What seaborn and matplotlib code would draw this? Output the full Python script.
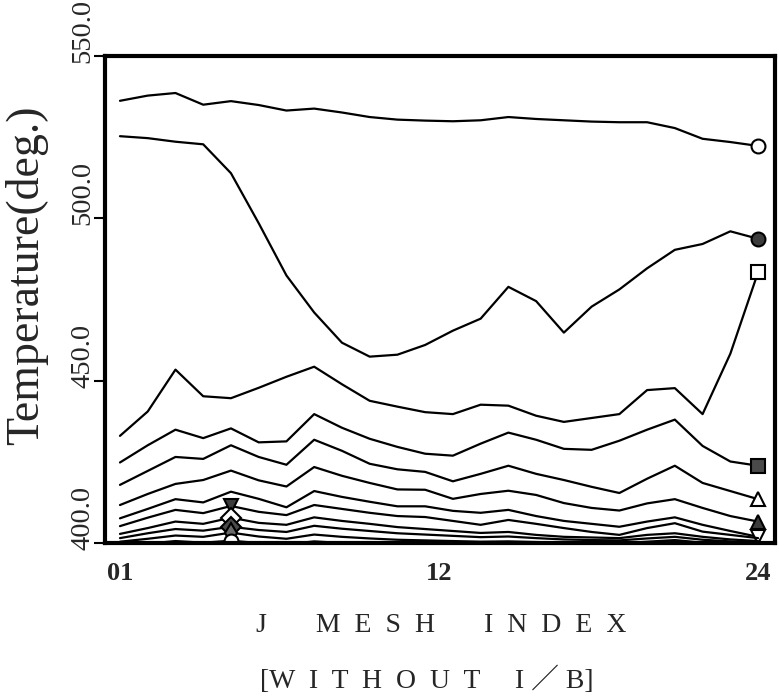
import matplotlib
matplotlib.use("Agg")
import matplotlib.pyplot as plt
import matplotlib.transforms as mtransforms
import pandas as pd
import seaborn as sns

# J mesh positions
j_index = list(range(1, 25))

# Temperature profiles (deg.) along the J mesh, one list per curve
curve_open_circle = [536.2, 537.8, 538.6, 535.0, 536.1, 534.9, 533.2, 533.8, 532.6, 531.2,
                     530.4, 530.1, 529.9, 530.2, 531.2, 530.6, 530.2, 529.8, 529.6, 529.6,
                     527.8, 524.5, 523.5, 522.3]
curve_filled_circle = [525.3, 524.7, 523.6, 522.8, 513.9, 498.5, 482.4, 471.0, 461.7, 457.4,
                       458.0, 461.0, 465.4, 469.1, 478.9, 474.5, 464.8, 472.8, 478.1, 484.6,
                       490.3, 492.1, 496.0, 493.7]
curve_open_square = [433.0, 440.5, 453.4, 445.2, 444.6, 447.8, 451.2, 454.3, 448.9, 443.8,
                     442.0, 440.3, 439.7, 442.6, 442.3, 439.2, 437.3, 438.5, 439.7, 447.1,
                     447.7, 439.7, 458.3, 483.4]
curve_filled_square = [424.8, 430.1, 434.9, 432.3, 435.3, 431.0, 431.3, 439.7, 435.5, 432.1,
                       429.6, 427.5, 426.9, 430.6, 434.0, 431.8, 429.0, 428.7, 431.5, 434.9,
                       438.0, 429.9, 425.1, 423.8]
curve_open_triangle = [417.9, 422.2, 426.5, 425.9, 430.1, 426.5, 424.1, 431.8, 428.4, 424.4,
                       422.7, 421.9, 419.0, 421.3, 423.8, 421.3, 419.4, 417.3, 415.4, 419.8,
                       423.8, 418.5, 416.0, 413.5]
curve_filled_triangle = [411.7, 415.1, 418.2, 419.4, 422.3, 419.3, 417.4, 423.4, 420.7, 418.5,
                         416.5, 416.4, 413.6, 415.1, 416.1, 414.8, 412.3, 410.8, 410.0, 412.2,
                         413.5, 410.8, 408.3, 406.6]
curve_open_down = [407.6, 410.5, 413.5, 412.5, 415.8, 413.6, 411.0, 416.0, 414.2, 412.7,
                   411.3, 411.3, 409.9, 409.3, 410.2, 408.3, 406.8, 405.9, 405.0, 406.6,
                   407.9, 405.6, 403.7, 401.9]
curve_filled_down = [405.2, 407.8, 410.2, 409.2, 411.4, 409.6, 408.6, 411.7, 410.5, 409.3,
                     408.3, 408.0, 406.8, 405.6, 407.1, 405.9, 404.6, 403.4, 402.5, 404.6,
                     406.1, 403.5, 402.5, 401.5]
curve_open_diamond = [402.8, 404.6, 406.6, 405.9, 407.8, 406.2, 405.6, 407.9, 406.8, 405.9,
                      404.9, 404.3, 403.7, 403.1, 403.4, 402.5, 401.9, 401.7, 401.5, 402.5,
                      403.0, 401.9, 401.1, 400.6]
curve_filled_diamond = [401.5, 403.0, 404.3, 403.8, 405.0, 404.0, 403.4, 405.3, 404.4, 403.7,
                        403.0, 402.6, 402.2, 401.8, 402.0, 401.5, 401.1, 400.9, 400.8, 401.4,
                        401.9, 401.0, 400.5, 400.2]
curve_thin_diamond = [400.4, 401.3, 402.3, 401.9, 403.2, 402.0, 401.3, 402.6, 401.9, 401.4,
                      401.0, 400.8, 400.6, 400.4, 400.5, 400.3, 400.1, 400.0, 399.9, 400.4,
                      400.9, 400.1, 399.8, 399.6]
curve_small_circle = [399.2, 399.8, 400.6, 400.1, 400.7, 400.0, 399.6, 400.5, 400.0, 399.7,
                      399.5, 399.3, 399.2, 399.1, 399.2, 399.0, 398.9, 398.8, 398.8, 399.9,
                      400.3, 399.4, 399.0, 398.8]

y_ticks = [400.0, 450.0, 500.0, 550.0]
y_tick_labels = ["400.0", "450.0", "500.0", "550.0"]
x_ticks = [1, 12.5, 24]
x_tick_labels = ["01", "12", "24"]

# (values, marker, face colour, index of the marked point)
curves = [
    (curve_open_circle, "o", "white", 23),
    (curve_filled_circle, "o", "#3c3c3c", 23),
    (curve_open_square, "s", "white", 23),
    (curve_filled_square, "s", "#4a4a4a", 23),
    (curve_open_triangle, "^", "white", 23),
    (curve_filled_triangle, "^", "#3c3c3c", 23),
    (curve_open_down, "v", "white", 23),
    (curve_filled_down, "v", "#3c3c3c", 4),
    (curve_open_diamond, "D", "white", 4),
    (curve_filled_diamond, "D", "#4a4a4a", 4),
    (curve_thin_diamond, "d", "#6a6a6a", 4),
    (curve_small_circle, "o", "white", 4),
]

sns.set_theme(style="white")
plt.rcParams["font.family"] = ["Liberation Serif", "Noto Sans CJK JP", "DejaVu Sans"]

W, H = 779, 697
fig = plt.figure(figsize=(W / 100, H / 100), dpi=100)
ax = fig.add_axes([105 / W, 1 - 543 / H, 670 / W, 487 / H])

for values, mk, face, mark_at in curves:
    frame = pd.DataFrame({"j": j_index, "temp": values})
    sns.lineplot(data=frame, x="j", y="temp", ax=ax, color="black", linewidth=1.6,
                 marker=mk, markevery=[mark_at], markersize=10,
                 markerfacecolor=face, markeredgecolor="black", markeredgewidth=1.5)

ax.set_xlim(0.46, 24.61)
ax.set_ylim(400, 550)

ax.set_yticks(y_ticks)
ax.set_yticklabels(y_tick_labels, fontsize=20.5, rotation=90, va="bottom", ha="center")
ax.set_xticks(x_ticks)
ax.set_xticklabels(x_tick_labels, fontsize=19, fontweight="bold")
ax.tick_params(axis="y", direction="out", length=8, width=1.5, color="black", pad=8, left=True)
ax.tick_params(axis="x", length=0, pad=14)

# start the rotated value labels a few pixels below their ticks
shift_down = mtransforms.ScaledTranslation(0, -7 / 100, fig.dpi_scale_trans)
for lbl in ax.get_yticklabels():
    lbl.set_transform(lbl.get_transform() + shift_down)

for side in ["left", "right", "top", "bottom"]:
    ax.spines[side].set_color("black")
    ax.spines[side].set_linewidth(3.0)

ax.set_xlabel("")
ax.set_ylabel("Temperature(deg.)", fontsize=33)
ax.yaxis.set_label_coords(-0.085, 0.55)

fig.text(256 / W, 1 - 626 / H, "J       M  E  S  H       I  N  D  E  X",
         fontsize=20, ha="left", va="center")
fig.text(260 / W, 1 - 680 / H, "[W  I  T  H  O  U  T     I ／ B]",
         fontsize=20, ha="left", va="center")

fig.savefig("out.png", dpi=100, facecolor="white")
